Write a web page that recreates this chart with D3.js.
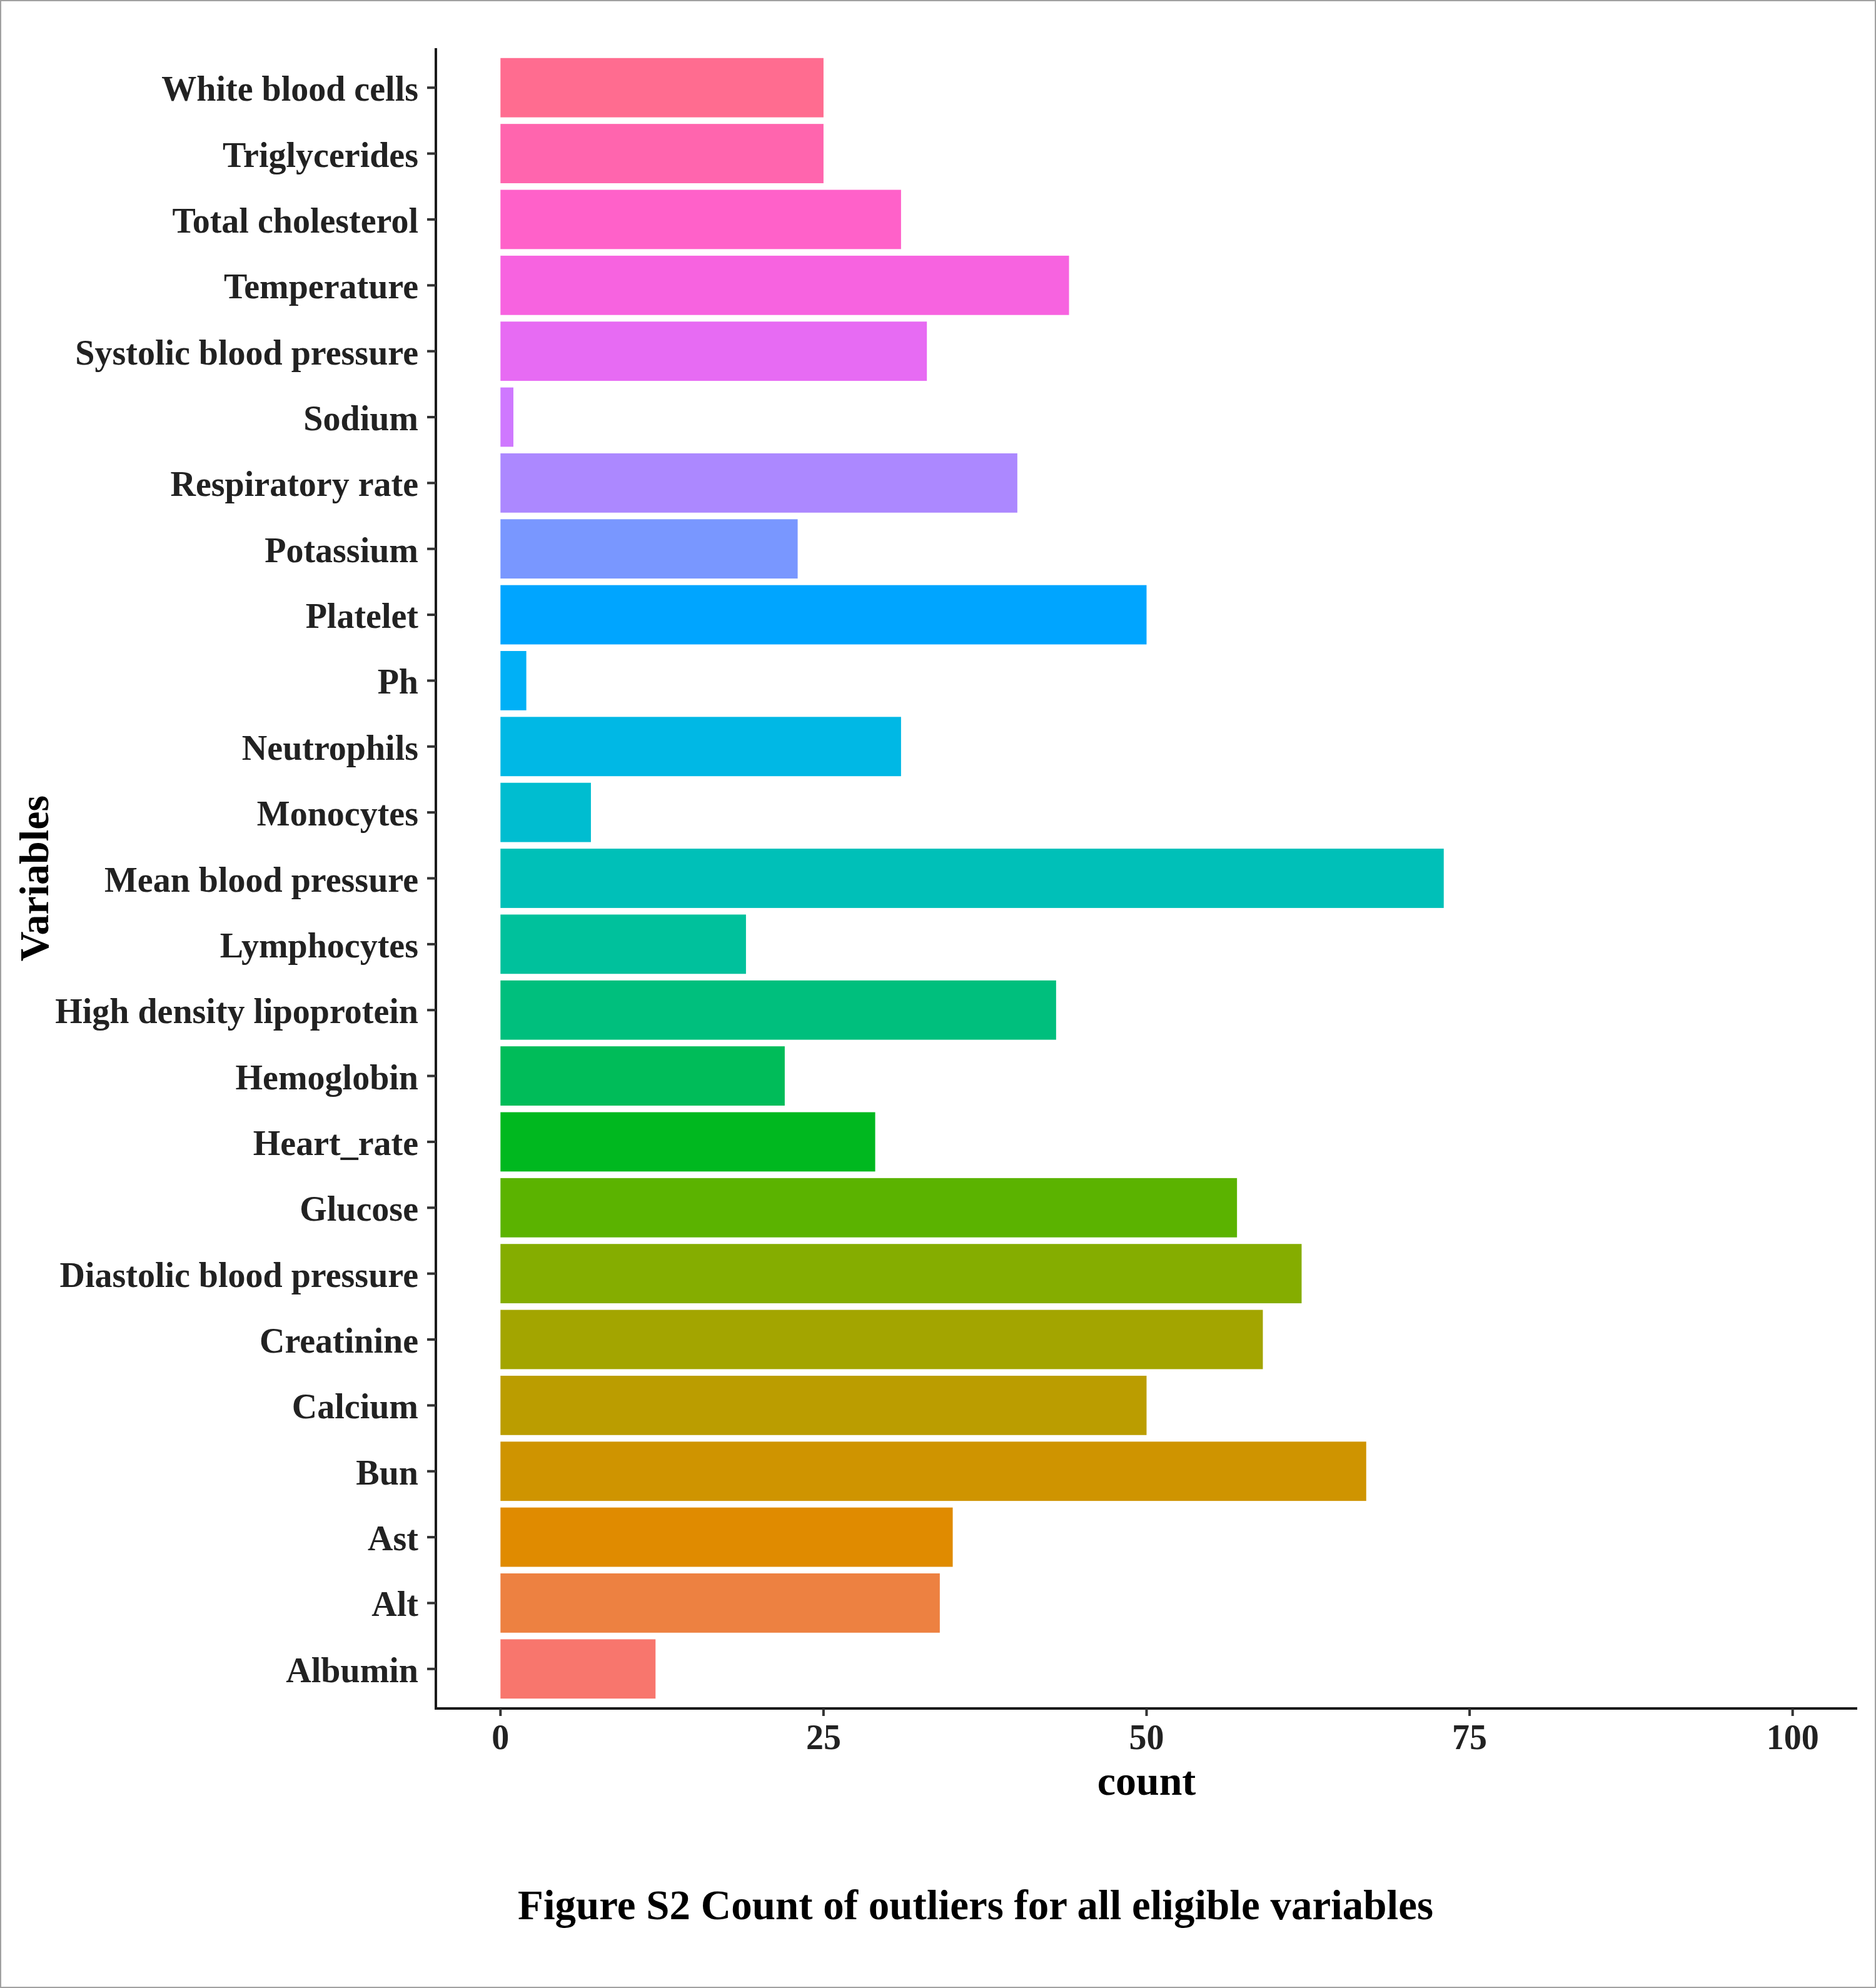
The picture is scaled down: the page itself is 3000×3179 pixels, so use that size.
<!DOCTYPE html>
<html>
<head>
<meta charset="utf-8">
<script src="https://cdn.jsdelivr.net/npm/d3@7"></script>
<style>
  body { margin: 0; background: #fff; }
  svg text { font-family: "Liberation Serif", "Times New Roman", serif; font-weight: bold; }
</style>
</head>
<body>
<div id="chart"></div>
<script>
// variables, in the order ggplot stacks them (alphabetical, first one at the bottom)
const variables = [
  "Albumin", "Alt", "Ast", "Bun", "Calcium", "Creatinine",
  "Diastolic blood pressure", "Glucose", "Heart_rate", "Hemoglobin",
  "High density lipoprotein", "Lymphocytes", "Mean blood pressure",
  "Monocytes", "Neutrophils", "Ph", "Platelet", "Potassium",
  "Respiratory rate", "Sodium", "Systolic blood pressure", "Temperature",
  "Total cholesterol", "Triglycerides", "White blood cells"
];
// outlier counts, same order as variables
const counts = [
  12, 34, 35, 67, 50, 59,
  62, 57, 29, 22,
  43, 19, 73,
  7, 31, 2, 50, 23,
  40, 1, 33, 44,
  31, 25, 25
];
const xTicks = [0, 25, 50, 75, 100];
const xLimits = [0, 100];

const width = 3000, height = 3179;
// panel box (pixels)
const panel = { left: 697, right: 2970, top: 77, bottom: 2732 };

// ggplot default hue palette: polar LUV -> sRGB
function hclLuv(h, c, l) {
  const Xn = 95.047, Yn = 100, Zn = 108.883;
  const hr = h * Math.PI / 180;
  const U = c * Math.cos(hr), V = c * Math.sin(hr);
  const Y = l > 8 ? Yn * Math.pow((l + 16) / 116, 3) : Yn * l / 903.3;
  const t = Xn + 15 * Yn + 3 * Zn;
  const un = 4 * Xn / t, vn = 9 * Yn / t;
  const u = U / (13 * l) + un, v = V / (13 * l) + vn;
  const X = 9 * Y * u / (4 * v);
  const Z = -X / 3 - 5 * Y + 3 * Y / v;
  const lin = [
    3.240479 * X - 1.537150 * Y - 0.498535 * Z,
    -0.969256 * X + 1.875992 * Y + 0.041556 * Z,
    0.055648 * X - 0.204043 * Y + 1.057311 * Z
  ].map(q => q / 100);
  const g = lin.map(q => {
    const s = q > 0.00304 ? 1.055 * Math.pow(q, 1 / 2.4) - 0.055 : 12.92 * q;
    return Math.round(Math.max(0, Math.min(1, s)) * 255);
  });
  return d3.rgb(g[0], g[1], g[2]).formatHex();
}
const n = variables.length;
const palette = d3.range(n).map(i => hclLuv(15 + i * 360 / n, 100, 65));

const svg = d3.select("#chart").append("svg")
  .attr("width", width)
  .attr("height", height);

svg.append("rect")
  .attr("x", 1).attr("y", 1)
  .attr("width", width - 2).attr("height", height - 2)
  .attr("fill", "#fff")
  .attr("stroke", "#a0a0a0")
  .attr("stroke-width", 2);

// x: 5% expansion on each side, like ggplot
const span = xLimits[1] - xLimits[0];
const x = d3.scaleLinear()
  .domain([xLimits[0] - 0.05 * span, xLimits[1] + 0.05 * span])
  .range([panel.left, panel.right]);

// y: discrete with 0.6 expansion, bar width 0.9
const yPos = d3.scaleLinear()
  .domain([0.4, n + 0.6])
  .range([panel.bottom, panel.top]);
const barH = 0.9 * (panel.bottom - panel.top) / (n + 0.2);

// bars
svg.append("g")
  .selectAll("rect")
  .data(variables)
  .join("rect")
  .attr("x", x(0))
  .attr("y", (d, i) => yPos(i + 1) - barH / 2)
  .attr("width", (d, i) => x(counts[i]) - x(0))
  .attr("height", barH)
  .attr("fill", (d, i) => palette[i]);

// y axis
const yAxis = svg.append("g");
yAxis.append("line")
  .attr("x1", panel.left).attr("x2", panel.left)
  .attr("y1", panel.top).attr("y2", panel.bottom + 2)
  .attr("stroke", "#1a1a1a").attr("stroke-width", 4);
yAxis.selectAll(".tick")
  .data(variables)
  .join("line")
  .attr("class", "tick")
  .attr("x1", panel.left - 14).attr("x2", panel.left)
  .attr("y1", (d, i) => yPos(i + 1)).attr("y2", (d, i) => yPos(i + 1))
  .attr("stroke", "#333").attr("stroke-width", 4);
yAxis.selectAll("text")
  .data(variables)
  .join("text")
  .attr("x", panel.left - 28)
  .attr("y", (d, i) => yPos(i + 1) + 21)
  .attr("text-anchor", "end")
  .attr("font-size", 56)
  .attr("fill", "#222")
  .text(d => d);

// x axis
const xAxis = svg.append("g");
xAxis.append("line")
  .attr("x1", panel.left - 2).attr("x2", panel.right)
  .attr("y1", panel.bottom).attr("y2", panel.bottom)
  .attr("stroke", "#1a1a1a").attr("stroke-width", 4);
xAxis.selectAll(".tick")
  .data(xTicks)
  .join("line")
  .attr("class", "tick")
  .attr("x1", d => x(d)).attr("x2", d => x(d))
  .attr("y1", panel.bottom).attr("y2", panel.bottom + 12)
  .attr("stroke", "#333").attr("stroke-width", 4);
xAxis.selectAll("text")
  .data(xTicks)
  .join("text")
  .attr("x", d => x(d))
  .attr("y", 2797)
  .attr("text-anchor", "middle")
  .attr("font-size", 56)
  .attr("fill", "#222")
  .text(d => d);

// axis titles
svg.append("text")
  .attr("x", (panel.left + panel.right) / 2)
  .attr("y", 2870)
  .attr("text-anchor", "middle")
  .attr("font-size", 66)
  .attr("fill", "#000")
  .text("count");

svg.append("text")
  .attr("transform", `translate(77,${(panel.top + panel.bottom) / 2}) rotate(-90)`)
  .attr("text-anchor", "middle")
  .attr("font-size", 66)
  .attr("fill", "#000")
  .text("Variables");

// caption
svg.append("text")
  .attr("x", 1560)
  .attr("y", 3069)
  .attr("text-anchor", "middle")
  .attr("font-size", 67)
  .attr("fill", "#000")
  .text("Figure S2 Count of outliers for all eligible variables");
</script>
</body>
</html>
